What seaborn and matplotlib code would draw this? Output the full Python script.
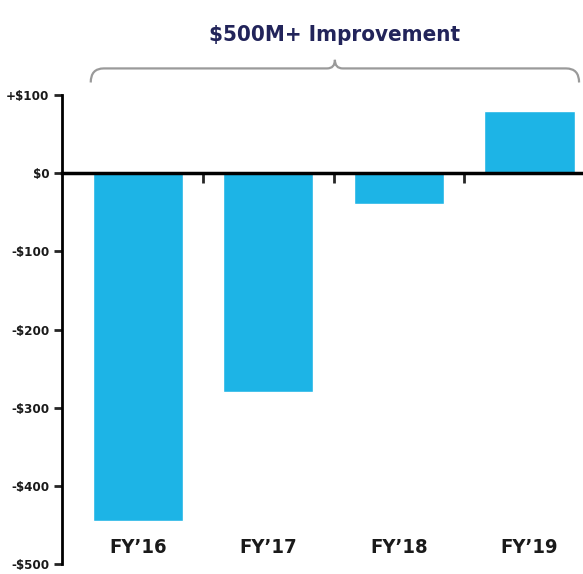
import matplotlib
matplotlib.use("Agg")
import matplotlib.pyplot as plt
import seaborn as sns
import pandas as pd
from matplotlib.path import Path
from matplotlib.patches import PathPatch

# data ($M)
years = ["FY\u201916", "FY\u201917", "FY\u201918", "FY\u201919"]
values = [-445, -280, -40, 80]
ytick_vals = [100, 0, -100, -200, -300, -400, -500]
ytick_labels = ['+$100', '$0', '-$100', '-$200', '-$300', '-$400', '-$500']
title = '$500M+ Improvement'

sns.set_style('white')
plt.rcParams['font.family'] = ['DejaVu Sans']
plt.rcParams['font.stretch'] = 'condensed'

df = pd.DataFrame({'year': years, 'value': values})

fig = plt.figure(figsize=(5.83, 5.74), dpi=100)
ax = fig.add_axes([62/583, 10/574, 1 - 62/583, 469/574])

sns.barplot(data=df, x='year', y='value', color='#1db4e6', width=0.69,
            saturation=1, ax=ax, zorder=2)

ax.set_xlim(-0.58, 3.41)
ax.set_ylim(-500, 100)
ax.set_xlabel('')
ax.set_ylabel('')

# axes styling
for s in ['top', 'right']:
    ax.spines[s].set_visible(False)
ax.spines['bottom'].set_position(('data', 0))
ax.spines['bottom'].set_linewidth(2.5)
ax.spines['bottom'].set_zorder(3)
ax.spines['left'].set_linewidth(2)
ax.spines['left'].set_color('black')
ax.spines['bottom'].set_color('black')

ax.set_yticks(ytick_vals)
ax.set_yticklabels(ytick_labels, fontsize=9.5, fontweight='bold',
                   fontstretch='condensed', color='#1a1a1a')
ax.tick_params(axis='y', direction='out', length=6, width=2, left=True, pad=3)

ax.set_xticks([0.5, 1.5, 2.5])
ax.set_xticklabels([])
ax.tick_params(axis='x', direction='out', length=7, width=2, bottom=True)

# category labels near the bottom
for i, yr in enumerate(years):
    ax.text(i, -479, yr, ha='center', va='center', fontsize=14.5,
            fontweight='bold', fontstretch='condensed', color='#1a1a1a')

# curly bracket above the bars
x0, x1, xm = -0.36, 3.38, 1.51
yb, yf, yt = 116, 134, 145
verts = [(x0, yb), (x0, yf), (x0 + 0.1, yf),
         (xm - 0.06, yf), (xm, yf), (xm, yt),
         (xm, yf), (xm + 0.06, yf),
         (x1 - 0.1, yf), (x1, yf), (x1, yb)]
codes = [Path.MOVETO, Path.CURVE3, Path.CURVE3,
         Path.LINETO, Path.CURVE3, Path.CURVE3,
         Path.CURVE3, Path.CURVE3,
         Path.LINETO, Path.CURVE3, Path.CURVE3]
ax.add_patch(PathPatch(Path(verts, codes), fill=False, edgecolor='#9a9a9a',
                       linewidth=1.6, clip_on=False))

fig.text(335/583, 1 - 35/574, title, ha='center', va='center', fontsize=16,
         fontweight='bold', fontstretch='condensed', color='#22245a')

fig.savefig('out.png', dpi=100)
